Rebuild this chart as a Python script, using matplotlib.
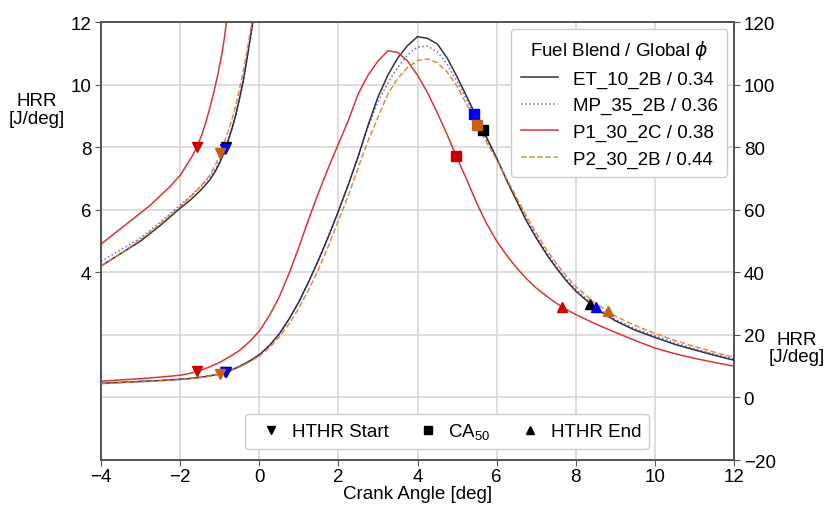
import numpy as np
import matplotlib
matplotlib.use("Agg")
import matplotlib.pyplot as plt
from matplotlib.lines import Line2D

plt.rcParams['font.family'] = ['Liberation Sans', 'DejaVu Sans']
plt.rcParams['mathtext.fontset'] = 'custom'
plt.rcParams['mathtext.rm'] = 'Liberation Sans'
plt.rcParams['mathtext.it'] = 'DejaVu Sans:italic'
plt.rcParams['font.size'] = 13.5

# ---- data -------------------------------------------------------------
fuels = ["ET_10_2B", "MP_35_2B", "P1_30_2C", "P2_30_2B"]
phi = ["0.34", "0.36", "0.38", "0.44"]

# early-cycle heat release rate (left axis, J/deg)
low_x_common = [-4, -3.5, -3, -2.5, -2, -1.75, -1.5, -1.25, -1.1, -1, -0.9, -0.8,
                -0.7, -0.6, -0.5, -0.4, -0.3, -0.2, -0.1]
low_x_p1 = [-4, -3.5, -3, -2.75, -2.5, -2.25, -2, -1.85, -1.7, -1.58, -1.45, -1.35,
            -1.25, -1.15, -1.05, -0.95, -0.88, -0.8]
low_x = {
    "ET_10_2B": low_x_common,
    "MP_35_2B": low_x_common,
    "P1_30_2C": low_x_p1,
    "P2_30_2B": low_x_common,
}
low_y = {
    "ET_10_2B": [4.2, 4.6, 5.0, 5.5, 6.05, 6.3, 6.6, 6.95, 7.25, 7.5, 7.8, 8.15,
                 8.55, 9.0, 9.55, 10.15, 10.9, 11.7, 12.5],
    "MP_35_2B": [4.35, 4.72, 5.1, 5.6, 6.15, 6.42, 6.72, 7.05, 7.33, 7.57, 7.85, 8.18,
                 8.57, 9.0, 9.55, 10.15, 10.9, 11.7, 12.5],
    "P1_30_2C": [4.9, 5.4, 5.9, 6.15, 6.45, 6.75, 7.1, 7.4, 7.7, 8.0, 8.4, 8.8,
                 9.25, 9.75, 10.3, 10.95, 11.5, 12.3],
    "P2_30_2B": [4.2, 4.6, 5.05, 5.55, 6.1, 6.4, 6.72, 7.1, 7.45, 7.75, 8.1, 8.45,
                 8.85, 9.3, 9.85, 10.45, 11.15, 11.9, 12.7],
}

# main combustion heat release rate (right axis, J/deg)
crank = [-4, -3.5, -3, -2.5, -2, -1.75, -1.5, -1.25, -1, -0.75, -0.5, -0.25,
         0, 0.25, 0.5, 0.75, 1, 1.25, 1.5, 1.75, 2, 2.25, 2.5, 2.75,
         3, 3.25, 3.5, 3.75, 4, 4.25, 4.5, 4.75, 5, 5.25, 5.5, 5.75,
         6, 6.25, 6.5, 6.75, 7, 7.25, 7.5, 7.75, 8, 8.5, 9, 9.5,
         10, 10.5, 11, 11.5, 12]
hrr = {
    "ET_10_2B": [4.5, 4.8, 5.1, 5.4, 5.8, 6.05, 6.4, 6.9, 7.5, 8.5, 9.9, 11.6,
                 13.6, 16.5, 20.2, 25, 30.5, 37, 44, 51.5, 59.5, 68, 77, 87,
                 96, 103, 108.5, 112.5, 115.3, 114.8, 113, 108.5, 102.5, 96, 89.5, 83,
                 76.5, 69.5, 63, 56.5, 51, 46, 41.5, 37.5, 34, 28.5, 24.5, 21.5,
                 19.2, 17, 15.2, 13.5, 11.9],
    "MP_35_2B": [4.6, 4.9, 5.2, 5.5, 5.9, 6.15, 6.5, 7.0, 7.6, 8.6, 10.0, 11.6,
                 13.6, 16.5, 20.2, 25, 30.5, 37, 44, 51.5, 59.5, 68, 77, 86.5,
                 94.5, 100.5, 105.5, 109.5, 112, 112.3, 110.5, 106.5, 101, 95, 88.5, 82.5,
                 76.5, 70, 63.5, 57.5, 51.5, 46.5, 42, 38, 34.6, 29, 25, 22,
                 19.7, 17.5, 15.6, 13.9, 12.3],
    "P1_30_2C": [5.2, 5.6, 6.0, 6.5, 7.1, 7.7, 8.6, 9.8, 11.2, 13.0, 15.0, 17.8,
                 21.2, 26, 32, 39.5, 48, 57, 65.5, 73.5, 81, 88.5, 97, 103,
                 107.5, 110.8, 110.3, 107.5, 103, 97.5, 91, 84, 76.5, 69.5, 62, 55.5,
                 50, 45.5, 41.5, 38, 35, 32.5, 30.2, 28.2, 26.5, 23.5, 20.8, 18.2,
                 15.8, 14, 12.5, 11.2, 10.0],
    "P2_30_2B": [4.4, 4.7, 5.0, 5.35, 5.75, 6.0, 6.35, 6.8, 7.45, 8.4, 9.7, 11.3,
                 13.2, 15.8, 19.2, 23.5, 28.5, 34.5, 41, 48.5, 56.5, 64.5, 73.5, 82,
                 89.5, 97, 102, 105.5, 107.7, 108.2, 107, 104, 99.5, 93.5, 87, 81.5,
                 76, 70, 64, 58, 52.5, 47.5, 43, 39, 35.5, 30, 26, 23,
                 20.5, 18.2, 16.3, 14.5, 12.8],
}

# combustion phasing (crank angle, deg)
hthr_start = {"ET_10_2B": -0.84, "MP_35_2B": -0.87, "P1_30_2C": -1.58, "P2_30_2B": -0.98}
ca50 = {"ET_10_2B": 5.65, "MP_35_2B": 5.42, "P1_30_2C": 4.98, "P2_30_2B": 5.50}
hthr_end = {"ET_10_2B": 8.37, "MP_35_2B": 8.52, "P1_30_2C": 7.66, "P2_30_2B": 8.81}

x_ticks = [-4, -2, 0, 2, 4, 6, 8, 10, 12]
left_ticks = [4, 6, 8, 10, 12]
right_ticks = [-20, 0, 20, 40, 60, 80, 100, 120]

# ---- styles -----------------------------------------------------------
line_style = {
    "ET_10_2B": dict(color="black", ls="-", alpha=0.8),
    "MP_35_2B": dict(color="blue", ls=":", alpha=0.6),
    "P1_30_2C": dict(color="#d62020", ls="-", alpha=0.9),
    "P2_30_2B": dict(color="#e0802a", ls="--", alpha=0.9),
}
marker_color = {"ET_10_2B": "black", "MP_35_2B": "blue",
                "P1_30_2C": "#cc0000", "P2_30_2B": "#c86010"}

fig = plt.figure(figsize=(8.26, 5.06), dpi=100)
ax = fig.add_axes([0.1223, 0.0889, 0.7663, 0.8656])
ax2 = ax.twinx()

spine_c = "#555555"
for a in (ax, ax2):
    for s in a.spines.values():
        s.set_color(spine_c)
        s.set_linewidth(1.3)

ms = 7
for f in fuels:
    st = line_style[f]
    mc = marker_color[f]
    ax.plot(low_x[f], low_y[f], lw=1.1, zorder=3, **st)
    xs = hthr_start[f]
    ax.plot([xs], [np.interp(xs, low_x[f], low_y[f])], marker="v", ms=ms,
            color=mc, ls="none", zorder=4)

    ax2.plot(crank, hrr[f], lw=1.1, zorder=3, **st)
    for xm, mk in ((hthr_start[f], "v"), (ca50[f], "s"), (hthr_end[f], "^")):
        ax2.plot([xm], [np.interp(xm, crank, hrr[f])], marker=mk, ms=ms,
                 color=mc, ls="none", zorder=4)

ax.set_xlim(-4, 12)
ax.set_ylim(-2, 12)
ax2.set_ylim(-20, 120)
ax.set_xticks(x_ticks)
ax.set_yticks(left_ticks)
ax.set_yticks(np.arange(-2, 13, 2), minor=True)
ax2.set_yticks(right_ticks)

ax.grid(True, which="both", color="#d3d3d3", lw=1.1)
ax.tick_params(which="minor", length=0)
ax.tick_params(which="major", length=4, color=spine_c, labelsize=13.5, pad=3)
ax.tick_params(axis="x", pad=2)
ax2.tick_params(length=4, color=spine_c, labelsize=13.5, pad=3)

ax.set_xlabel("Crank Angle [deg]", fontsize=13.5, labelpad=0)
ax.set_ylabel("HRR\n[J/deg]", rotation=0, ha="center", va="center",
              fontsize=13.5, linespacing=1.05)
ax.yaxis.set_label_coords(-0.101, 0.80)
ax2.set_ylabel("HRR\n[J/deg]", rotation=0, ha="center", va="center",
               fontsize=13.5, linespacing=1.0)
ax2.yaxis.set_label_coords(1.0995, 0.256)

# fuel legend
fuel_handles = [Line2D([], [], lw=1.1, **line_style[f]) for f in fuels]
fuel_labels = [f"{f} / {p}" for f, p in zip(fuels, phi)]
leg1 = ax2.legend(fuel_handles, fuel_labels, title=r"Fuel Blend / Global $\phi$",
                  loc="upper right", fontsize=13.5, title_fontsize=13.5,
                  labelspacing=0.5, borderpad=0.5, borderaxespad=0.35,
                  framealpha=1, edgecolor="#cccccc")
ax2.add_artist(leg1)

# phasing legend
mk_handles = [Line2D([], [], marker=m, color="black", ls="none", ms=6)
              for m in ("v", "s", "^")]
mk_labels = ["HTHR Start", "CA$_{50}$", "HTHR End"]
ax2.legend(mk_handles, mk_labels, loc="lower center", bbox_to_anchor=(0.546, 0.025),
           ncol=3, fontsize=13.5, handlelength=2, handletextpad=0.1,
           columnspacing=1.1, borderaxespad=0, framealpha=1, edgecolor="#cccccc")

fig.savefig("out.png", dpi=100)
